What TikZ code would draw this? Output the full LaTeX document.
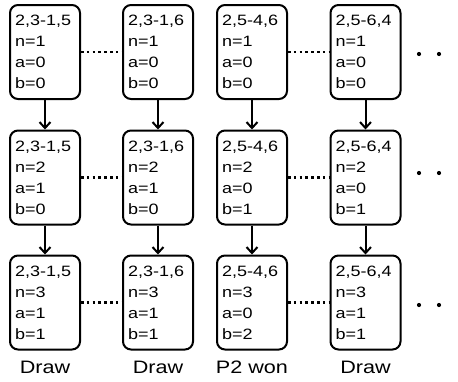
\documentclass[tikz,border=0pt]{standalone}
\usepackage{fontspec}
\setmainfont{Liberation Sans}[FakeStretch=1.2]
\usetikzlibrary{arrows.meta}
\tikzset{st/.style={draw,line width=2pt,rounded corners=8pt,align=left,text width=60pt,
 minimum width=70pt,minimum height=94pt,inner xsep=5pt,inner ysep=0pt,
 font=\fontsize{15}{21}\selectfont},
 arr/.style={-{Straight Barb[length=6pt,width=11pt,line width=2pt]},line width=2pt},
 dotline/.style={line width=2.6pt,dash pattern=on 2.6pt off 3.2pt},
 lbl/.style={anchor=base,inner sep=0pt,font=\fontsize{18}{21}\selectfont},
 more/.style={circle,fill,inner sep=0pt,minimum size=4.2pt}}
\begin{document}
\begin{tikzpicture}[x=1pt,y=-1pt]
\useasboundingbox (0,0) rectangle (458,381);
% first move
\node[st] (a1) at (45,52) {2,3-1,5\\n=1\\a=0\\b=0};
\node[st] (b1) at (158,52) {2,3-1,6\\n=1\\a=0\\b=0};
\node[st] (c1) at (252,52) {2,5-4,6\\n=1\\a=0\\b=0};
\node[st] (d1) at (365.5,52) {2,5-6,4\\n=1\\a=0\\b=0};
% second move
\node[st] (a2) at (45,177.5) {2,3-1,5\\n=2\\a=1\\b=0};
\node[st] (b2) at (158,177.5) {2,3-1,6\\n=2\\a=1\\b=0};
\node[st] (c2) at (252,177.5) {2,5-4,6\\n=2\\a=0\\b=1};
\node[st] (d2) at (365.5,177.5) {2,5-6,4\\n=2\\a=0\\b=1};
% third move
\node[st] (a3) at (45,302.5) {2,3-1,5\\n=3\\a=1\\b=1};
\node[st] (b3) at (158,302.5) {2,3-1,6\\n=3\\a=1\\b=1};
\node[st] (c3) at (252,302.5) {2,5-4,6\\n=3\\a=0\\b=2};
\node[st] (d3) at (365.5,302.5) {2,5-6,4\\n=3\\a=1\\b=1};
% outcomes
\node[lbl] (ra) at (45,373) {Draw};
\node[lbl] (rb) at (158,373) {Draw};
\node[lbl] (rc) at (252,373) {P2 won};
\node[lbl] (rd) at (365.5,373) {Draw};
% further games
\node[more] (m1a) at (419,54) {};
\node[more] (m1b) at (439,54) {};
\node[more] (m2a) at (419,173) {};
\node[more] (m2b) at (439,173) {};
\node[more] (m3a) at (419,305) {};
\node[more] (m3b) at (439,305) {};
\draw[arr] (a1)--(a2); \draw[arr] (a2)--(a3);
\draw[arr] (b1)--(b2); \draw[arr] (b2)--(b3);
\draw[arr] (c1)--(c2); \draw[arr] (c2)--(c3);
\draw[arr] (d1)--(d2); \draw[arr] (d2)--(d3);
\draw[dotline] (a1)--(b1); \draw[dotline] (c1)--(d1);
\draw[dotline] (a2)--(b2); \draw[dotline] (c2)--(d2);
\draw[dotline] (a3)--(b3); \draw[dotline] (c3)--(d3);
\end{tikzpicture}
\end{document}
